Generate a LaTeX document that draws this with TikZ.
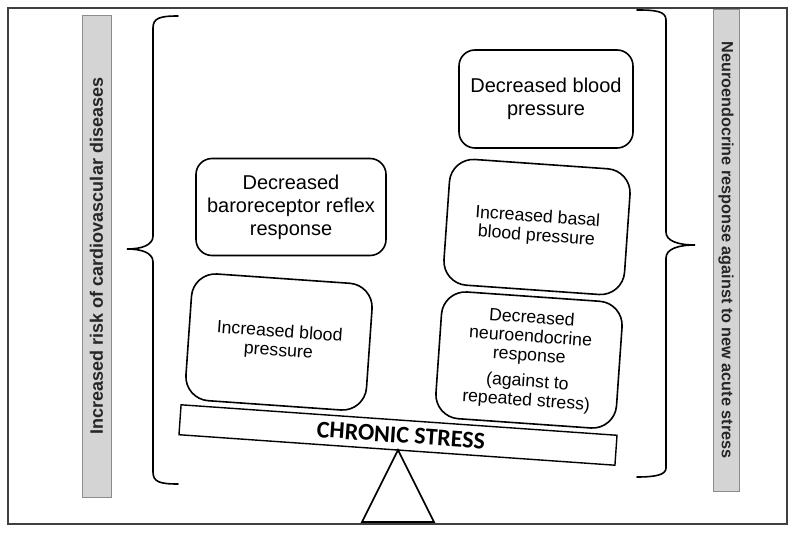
\documentclass[tikz,border=0pt]{standalone}
\usepackage{fontspec}
\setmainfont{Liberation Sans}
\newfontfamily\calibrifont{Carlito}
\begin{document}
\begin{tikzpicture}[x=1pt,y=-1pt,
  box/.style={draw=black, line width=1.6pt, rounded corners=16pt, align=center, inner sep=4pt},
  tbox/.style={draw=black, line width=1.6pt, rounded corners=24pt, align=center, inner sep=4pt, rotate=-4},
  sidebar/.style={fill=black!17, draw=black!45, line width=1pt},
  brace/.style={line width=1.6pt, line cap=round},
  big/.style={font=\fontsize{20}{23}\selectfont},
  mid/.style={font=\fontsize{17.7}{19}\selectfont}]
\useasboundingbox (0,0) rectangle (797,534);
\fill[white] (0,0) rectangle (797,534);
\draw[line width=1.5pt, black!75] (8,8) rectangle (787,524);

% side bars
\draw[sidebar] (82,16) rectangle (111,497);
\node[rotate=90, font=\fontsize{18}{20}\bfseries\selectfont, text=black!85] (lefttxt) at (96.5,256) {Increased risk of cardiovascular diseases};
\draw[sidebar] (713,10) rectangle (739,491);
\node[rotate=-90, font=\fontsize{16.2}{19}\bfseries\selectfont, text=black!85] (righttxt) at (726,250) {Neuroendocrine response against to new acute stress};

% braces
\draw[brace] (178,16) .. controls (160,16) and (153,18) .. (153,28) -- (153,236)
  .. controls (153,245) and (142,249) .. (127,249)
  .. controls (142,249) and (153,253) .. (153,262) -- (153,472)
  .. controls (153,482) and (160,484) .. (178,484);
\draw[brace] (637,10) .. controls (655,10) and (666,11) .. (666,20) -- (666,232)
  .. controls (666,241) and (678,245) .. (695,245)
  .. controls (678,245) and (666,249) .. (666,258) -- (666,468)
  .. controls (666,475) and (655,477) .. (637,477);

% upper boxes
\node[box, big, minimum width=190pt, minimum height=97pt] (baro) at (291,207)
  {Decreased\\baroreceptor reflex\\response};
\node[box, big, minimum width=174pt, minimum height=98pt] (dbp) at (546,99)
  {Decreased blood\\pressure};

% tilted boxes
\node[tbox, mid, minimum width=181pt, minimum height=126pt] (basal) at (537,227)
  {Increased basal\\blood pressure};
\node[tbox, mid, minimum width=181pt, minimum height=127pt] (ibp) at (279,342)
  {Increased blood\\pressure};
\node[tbox, mid, minimum width=181pt, minimum height=127pt] (neuro) at (529,360)
  {Decreased\\neuroendocrine\\response\\[7pt](against to\\repeated stress)};

% seesaw
\node[draw=black, line width=1.4pt, rotate=-4, minimum width=437pt, minimum height=30pt, inner sep=0pt,
  font=\calibrifont\fontsize{24}{26}\bfseries\selectfont] (plank) at (398,435) {\hspace{6pt}CHRONIC STRESS};
\coordinate (apex) at (398,450);
\coordinate (bl) at (362,522);
\coordinate (br) at (434,522);
\draw[line width=1.6pt, line join=miter] (apex) -- (br) -- (bl) -- cycle;
\end{tikzpicture}
\end{document}
